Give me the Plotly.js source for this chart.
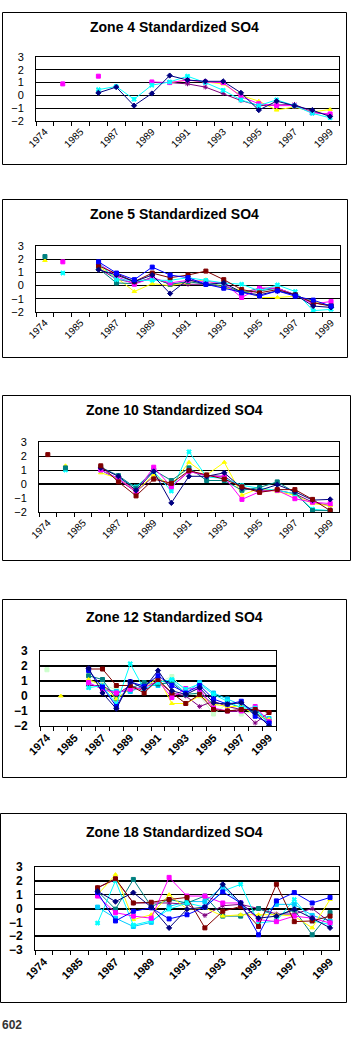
<!DOCTYPE html>
<html><head><meta charset="utf-8">
<script src="https://cdn.plot.ly/plotly-3.0.1.min.js"></script>
<style>html,body{margin:0;padding:0;background:#fff;}#chart{width:352px;height:1037px;}</style>
</head><body><div id="chart"></div>
<script>
// ---------- DATA ----------
const years = ["1974","1980","1985","1986","1987","1988","1989","1990","1991","1992","1993","1994","1995","1996","1997","1998","1999"];
const yearLabels = ["1974","","1985","","1987","","1989","","1991","","1993","","1995","","1997","","1999"];
const titles = ["Zone 4 Standardized SO4","Zone 5 Standardized SO4","Zone 10 Standardized SO4","Zone 12 Standardized SO4","Zone 18 Standardized SO4"];
const yTicks5 = [-2,-1,0,1,2,3];
const yTicks18 = [-3,-2,-1,0,1,2,3];

// Zone 4
const z4_navy    = [null,null,null,0.2,0.65,-0.8,0.15,1.55,1.2,1.1,1.1,0.2,-1.15,-0.45,-0.8,-1.15,-1.65];
const z4_magenta = [null,0.9,null,1.5,null,null,1.05,1.0,1.2,1.05,1.0,-0.1,-0.65,-0.8,-0.8,-1.35,-1.45];
const z4_yellow  = [null,null,null,null,null,null,null,1.0,1.2,1.05,0.9,0.0,-0.45,-1.15,-0.9,-1.3,-1.1];
const z4_cyan    = [null,null,null,0.45,0.7,-0.3,0.8,1.05,1.5,1.0,0.4,-0.35,-0.8,-0.35,-0.8,-1.4,-1.75];
const z4_purple  = [null,null,null,null,null,null,null,1.0,0.9,0.65,0.15,-0.4,-0.8,-0.75,-0.7,-1.3,-1.5];

// Zone 5
const z5_navy    = [null,null,null,1.2,0.8,0.3,0.8,-0.6,0.45,0.1,0.2,-0.5,-0.7,-0.4,-0.7,-1.55,-1.65];
const z5_magenta = [null,1.8,null,1.7,0.7,0.1,0.6,0.2,0.4,0.3,0.2,-0.9,-0.2,-0.2,-0.7,-1.4,-1.2];
const z5_yellow  = [1.9,null,null,1.45,0.6,-0.45,0.15,0.0,0.2,0.45,-0.2,-0.3,-0.9,-0.9,-0.8,-1.2,-1.55];
const z5_cyan    = [null,0.95,null,1.7,0.45,0.4,0.4,0.4,0.6,0.4,0.2,0.1,-0.4,0.05,-0.45,-1.9,-1.8];
const z5_purple  = [null,null,null,1.3,0.5,0.2,0.6,0.1,0.1,0.1,-0.1,-0.55,-0.2,-0.2,-0.7,-1.3,-1.5];
const z5_darkred = [null,null,null,1.5,0.9,0.3,0.95,0.6,0.8,1.1,0.45,-0.3,-0.55,-0.3,-0.7,-1.3,-1.55];
const z5_teal    = [2.2,null,null,1.3,0.2,0.15,0.6,0.1,0.3,0.1,0.0,-0.5,-0.4,-0.2,-0.7,-1.3,-1.5];
const z5_blue    = [null,null,null,1.8,0.95,0.45,1.4,0.8,0.6,0.1,-0.2,-0.55,-0.8,-0.4,-0.8,-1.1,-1.55];

// Zone 10
const z10_navy    = [null,null,null,1.15,0.55,-0.45,0.9,-1.35,0.55,0.55,0.8,-0.3,-0.45,-0.05,-0.55,-1.15,-1.1];
const z10_magenta = [null,null,null,1.0,0.4,-0.55,1.2,-0.2,0.9,0.6,0.5,-1.1,-0.55,-0.45,-1.05,-1.3,-1.4];
const z10_yellow  = [null,1.3,null,0.8,0.4,-0.5,0.65,-0.1,1.55,0.65,1.55,-0.8,-0.3,-0.55,-0.8,-1.4,-1.55];
const z10_cyan    = [null,1.0,null,1.0,0.4,-0.2,0.9,-0.5,2.3,0.5,0.4,-0.1,-0.3,-0.45,-0.7,-1.8,-1.9];
const z10_purple  = [null,null,null,1.0,0.3,-0.55,0.55,-0.2,0.9,0.6,0.55,-0.3,-0.5,-0.45,-0.7,-1.3,-1.55];
const z10_darkred = [2.1,null,null,1.3,0.15,-0.85,0.35,0.05,0.95,0.65,0.35,-0.2,-0.6,-0.4,-0.4,-1.1,-1.9];
const z10_teal    = [null,1.15,null,1.2,0.6,-0.3,1.0,0.25,1.15,0.25,0.25,-0.45,-0.25,0.15,-0.6,-1.9,-1.9];

// Zone 12
const z12_navy       = [null,null,null,1.85,0.2,-0.85,0.95,0.5,1.7,0.35,0.1,0.55,-0.45,-0.55,-0.45,-1.1,-2.0];
const z12_darkred    = [null,null,null,1.8,1.8,0.7,0.7,0.2,1.1,0.2,-0.5,0.1,-0.9,-1.0,-0.9,-0.9,-1.1];
const z12_blue       = [null,null,null,1.7,0.6,-0.7,0.95,0.65,1.35,0.7,0.2,0.7,-0.2,-0.55,-0.35,-1.35,-1.8];
const z12_cyan       = [null,null,null,0.55,0.7,-0.55,2.15,0.45,0.9,1.1,0.45,0.8,0.1,-0.35,-0.8,-0.8,-1.9];
const z12_magenta    = [null,null,null,0.9,0.45,0.2,0.45,0.55,1.0,-0.1,0.5,0.45,-0.8,-1.0,-1.0,-0.7,-1.7];
const z12_yellow     = [null,0.0,null,1.1,0.7,-0.2,0.5,0.5,1.25,-0.5,-0.5,0.0,-0.55,-0.7,-0.7,-1.25,-1.55];
const z12_teal       = [null,null,null,1.35,1.1,-0.2,0.5,0.9,0.8,0.9,0.1,0.2,-0.55,-0.45,-0.8,-1.1,-1.7];
const z12_purple     = [null,null,null,0.7,0.7,0.1,0.7,0.35,1.0,0.2,0.0,-0.7,-0.35,-0.7,-0.9,-1.8,-1.1];
const z12_lightgreen = [1.75,null,null,1.0,0.8,0.4,0.3,0.6,0.9,1.3,0.3,0.0,-1.2,-0.5,-1.2,-1.0,-1.6];
const z12_skyblue    = [null,null,null,0.8,0.5,0.3,0.3,0.7,0.7,1.0,0.2,0.9,0.2,-0.2,-0.6,-1.0,-1.5];

// Zone 18
const z18_navy    = [null,null,null,1.25,0.5,1.15,0.1,-1.4,-0.05,0.1,1.75,0.4,-0.7,-0.55,-0.05,-0.7,-1.4];
const z18_magenta = [null,null,null,0.9,-0.3,-0.55,-0.7,2.25,0.9,0.9,0.4,0.4,-0.8,-0.95,-0.55,-0.7,-1.05];
const z18_yellow  = [null,null,null,1.0,2.45,-0.8,-0.45,1.0,-0.05,0.05,-0.55,-0.45,-0.45,-0.45,-0.55,-1.4,0.65];
const z18_cyan    = [null,null,null,-1.05,2.0,-1.2,-0.9,-0.05,0.4,0.1,1.25,1.75,-1.05,-0.9,0.65,-0.9,-1.15];
const z18_purple  = [null,null,null,1.5,2.1,0.4,0.4,0.4,0.3,-0.5,0.2,0.3,0.0,-0.4,-0.4,0.0,-1.0];
const z18_darkred = [null,null,null,1.5,2.15,0.4,0.45,0.65,0.8,-1.4,-0.2,0.15,-1.3,1.75,-0.95,-0.9,-0.55];
const z18_teal    = [null,null,null,1.25,-0.05,2.1,0.15,0.65,0.4,0.9,-0.55,-0.55,0.0,-0.55,-0.1,-1.9,-0.3];
const z18_blue    = [null,null,null,1.15,-0.9,-0.2,0.05,-0.75,-0.45,0.1,1.2,0.4,-1.9,0.55,1.15,0.4,0.8];
const z18_skyblue = [null,null,null,0.1,-0.7,-1.3,-1.0,0.15,0.5,0.5,1.6,0.3,-0.7,0.3,0.3,-0.5,-0.9];

// ---------- STYLE ----------
const S = {
  navy:{c:"#000080",m:"diamond"}, magenta:{c:"#FF00FF",m:"square"}, yellow:{c:"#FFFF00",m:"triangle-up"},
  cyan:{c:"#00FFFF",m:"x"}, purple:{c:"#800080",m:"asterisk-open"}, darkred:{c:"#800000",m:"square"},
  teal:{c:"#008080",m:"square"}, blue:{c:"#0000FF",m:"square"}, skyblue:{c:"#00CCFF",m:"square"},
  lightgreen:{c:"#CCFFCC",m:"square"}
};
const W=352,H=1037;
const px=x=>x/W, py=y=>1-y/H;
const FONT="Liberation Sans, Arial, sans-serif";

const zones = [
  {series:[[z4_purple,"purple"],[z4_yellow,"yellow"],[z4_magenta,"magenta"],[z4_cyan,"cyan"],[z4_navy,"navy"]],
   plot:[36,339,57,121], box:[2,347,12,165], tY:27, ticks:yTicks5, bold:false, grayMinus1:false, zw:1},
  {series:[[z5_purple,"purple"],[z5_yellow,"yellow"],[z5_teal,"teal"],[z5_magenta,"magenta"],[z5_cyan,"cyan"],[z5_darkred,"darkred"],[z5_navy,"navy"],[z5_blue,"blue"]],
   plot:[36,340,246,312], box:[2,348,199,358], tY:214, ticks:yTicks5, bold:false, grayMinus1:false, zw:1},
  {series:[[z10_purple,"purple"],[z10_yellow,"yellow"],[z10_cyan,"cyan"],[z10_teal,"teal"],[z10_magenta,"magenta"],[z10_navy,"navy"],[z10_darkred,"darkred"]],
   plot:[39,339,442,512], box:[2,351,395,561], tY:410, ticks:yTicks5, bold:false, grayMinus1:true, zw:2},
  {series:[[z12_lightgreen,"lightgreen"],[z12_skyblue,"skyblue"],[z12_purple,"purple"],[z12_teal,"teal"],[z12_yellow,"yellow"],[z12_magenta,"magenta"],[z12_cyan,"cyan"],[z12_darkred,"darkred"],[z12_blue,"blue"],[z12_navy,"navy"]],
   plot:[40,276,651,726], box:[2,347,599,778], tY:617, ticks:yTicks5, bold:true, grayMinus1:false, zw:2},
  {series:[[z18_skyblue,"skyblue"],[z18_purple,"purple"],[z18_teal,"teal"],[z18_yellow,"yellow"],[z18_cyan,"cyan"],[z18_magenta,"magenta"],[z18_darkred,"darkred"],[z18_blue,"blue"],[z18_navy,"navy"]],
   plot:[35,339,867,950], box:[0,347,813,1003], tY:832, ticks:yTicks18, bold:true, grayMinus1:true, zw:2}
];

const data=[], shapes=[], annotations=[];
const layout = {width:W,height:H,margin:{l:0,r:0,t:0,b:0},paper_bgcolor:"#fff",plot_bgcolor:"#fff",
  showlegend:false, font:{family:FONT,color:"#000"}};

zones.forEach((z,i)=>{
  const n=i+1, xa="x"+n, ya="y"+n;
  z.series.forEach(([arr,key])=>{
    const st=S[key];
    data.push({x:years,y:arr,xaxis:xa,yaxis:ya,type:"scatter",mode:"lines+markers",connectgaps:false,
      line:{color:st.c,width:1},marker:{symbol:st.m,size:4,color:st.c,line:{color:st.c,width:1}},hoverinfo:"skip"});
  });
  const fw = z.bold ? "bold" : "normal";
  layout["xaxis"+n] = {domain:[px(z.plot[0]),px(z.plot[1])],anchor:ya,type:"category",
    categoryorder:"array",categoryarray:years,range:[-0.5,16.5],tickmode:"array",tickvals:years,ticktext:yearLabels,
    tickson:"boundaries",ticks:"outside",ticklen:4,tickcolor:"#000",tickwidth:1,tickangle:-45,
    tickfont:{family:FONT,size:z.bold?11:10,color:"#000",weight:fw},
    showline:true,linecolor:"#000",linewidth:1,mirror:true,showgrid:false,zeroline:false,fixedrange:true};
  const yr=[z.ticks[0],z.ticks[z.ticks.length-1]];
  const gridVals = z.grayMinus1 ? z.ticks.filter(v=>v!==-1) : z.ticks;
  // main y axis: labels + black grid lines
  layout["yaxis"+n] = {domain:[py(z.plot[3]),py(z.plot[2])],anchor:xa,range:yr,tickmode:"array",tickvals:z.ticks,
    ticks:"outside",ticklen:9,tickcolor:"rgba(0,0,0,0)",tickfont:{family:FONT,size:z.bold?12:11,color:"#000",weight:fw},
    showgrid:!z.grayMinus1,gridcolor:"#000",gridwidth:z.bold?1.5:1,zeroline:true,zerolinecolor:"#000",zerolinewidth:z.zw,
    showline:true,linecolor:"#000",linewidth:1,mirror:true,fixedrange:true};
  if(z.grayMinus1){
    // minor grid for the black lines, excluding -1
    layout["yaxis"+n].showgrid=false;
    layout["yaxis"+n].minor={tickmode:"array",tickvals:gridVals,showgrid:true,gridcolor:"#000",gridwidth:z.bold?1.5:1,ticks:""};
    // separate overlay axis for the gray -1 line
    const on = 10+n;
    layout["yaxis"+on] = {overlaying:ya,anchor:xa,range:yr,tickmode:"array",tickvals:[-1],showticklabels:false,ticks:"",
      showgrid:true,gridcolor:"#9a9a9a",gridwidth:2,zeroline:false,showline:false,fixedrange:true};
  }
  shapes.push({type:"rect",xref:"paper",yref:"paper",x0:px(z.box[0]+0.5),x1:px(z.box[1]-0.5),y0:py(z.box[3]-0.5),y1:py(z.box[2]+0.5),
    line:{color:"#000",width:1},fillcolor:"rgba(0,0,0,0)",layer:"below"});
  annotations.push({text:titles[i],xref:"paper",yref:"paper",x:px(174),y:py(z.tY),xanchor:"center",yanchor:"middle",
    showarrow:false,font:{family:FONT,size:14,color:"#000",weight:"bold"}});
});
annotations.push({text:"602",xref:"paper",yref:"paper",x:0,y:py(1025),xanchor:"left",yanchor:"middle",showarrow:false,
  font:{family:FONT,size:12,color:"#333",weight:"bold"}});
layout.shapes=shapes; layout.annotations=annotations;
Plotly.newPlot("chart",data,layout,{staticPlot:true,displayModeBar:false});
</script></body></html>
